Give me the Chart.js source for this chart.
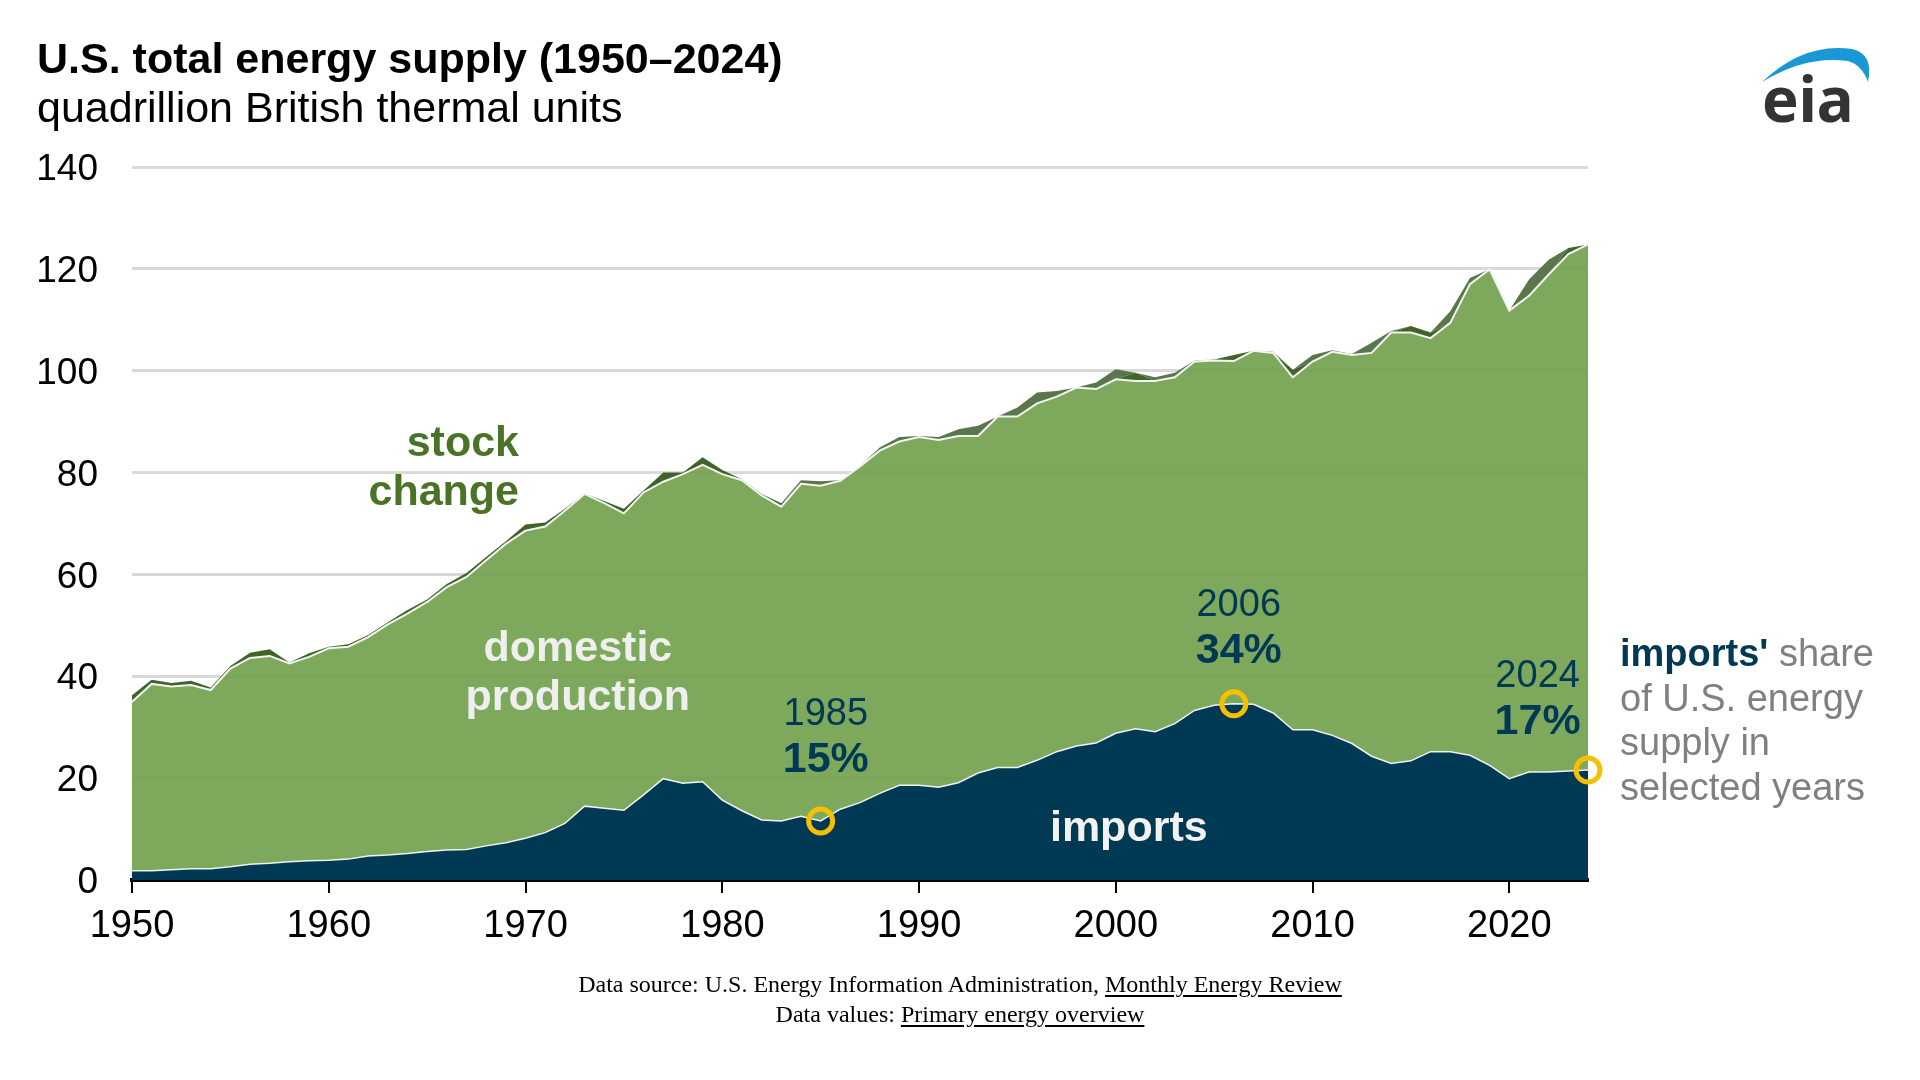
<!DOCTYPE html>
<html lang="en">
<head>
<meta charset="utf-8">
<title>U.S. total energy supply (1950–2024)</title>
<script src="https://cdn.jsdelivr.net/npm/chart.js@4.4.1/dist/chart.umd.min.js"></script>
<style>
  html, body { margin: 0; padding: 0; background: #fff; }
  #page { position: relative; width: 1920px; height: 1080px; overflow: hidden; font-family: "Liberation Sans", Arial, sans-serif; }
  #chart-wrap { position: absolute; left: 0; top: 0; width: 1920px; height: 1080px; }
  .title { position: absolute; left: 37px; top: 37px; font-size: 43px; line-height: 43px; font-weight: bold; color: #000; white-space: nowrap; }
  .subtitle { position: absolute; left: 37px; top: 86px; font-size: 43px; line-height: 43px; color: #000; white-space: nowrap; }
  .logo-arc { position: absolute; left: 1740px; top: 30px; }
  .logo-text { position: absolute; left: 1762px; top: 67px; font-family: "Open Sans", sans-serif; font-weight: bold; font-size: 62px; line-height: 62px; color: #333; letter-spacing: -0.5px; }
  .footer { position: absolute; left: 0; top: 969px; width: 1920px; text-align: center; font-family: "Liberation Serif", "Times New Roman", serif; font-size: 24px; line-height: 30px; color: #000; }
  .footer u { text-underline-offset: 3px; }
</style>
</head>
<body>
<div id="page">
  <div id="chart-wrap"><canvas id="supply-chart"></canvas></div>
  <div class="title">U.S. total energy supply (1950–2024)</div>
  <div class="subtitle">quadrillion British thermal units</div>
  <svg class="logo-arc" width="150" height="100" viewBox="0 0 150 100">
    <path d="M22,52 Q64,12 112,19 Q134,24 128,52 Q122,35 108,31 Q66,25 22,52 Z" fill="#1a98d5"/>
  </svg>
  <div class="logo-text">eia</div>
  <div class="footer">
    Data source: U.S. Energy Information Administration, <u>Monthly Energy Review</u><br>
    Data values: <u>Primary energy overview</u>
  </div>
</div>
<script>
// annual values, quadrillion Btu
const years = [
  1950, 1951, 1952, 1953, 1954, 1955, 1956, 1957, 1958, 1959,
  1960, 1961, 1962, 1963, 1964, 1965, 1966, 1967, 1968, 1969,
  1970, 1971, 1972, 1973, 1974, 1975, 1976, 1977, 1978, 1979,
  1980, 1981, 1982, 1983, 1984, 1985, 1986, 1987, 1988, 1989,
  1990, 1991, 1992, 1993, 1994, 1995, 1996, 1997, 1998, 1999,
  2000, 2001, 2002, 2003, 2004, 2005, 2006, 2007, 2008, 2009,
  2010, 2011, 2012, 2013, 2014, 2015, 2016, 2017, 2018, 2019,
  2020, 2021, 2022, 2023, 2024
];

const imports = [
  1.8, 1.8, 2.0, 2.2, 2.2, 2.6, 3.1, 3.3, 3.6, 3.8,
  3.9, 4.1, 4.7, 4.9, 5.2, 5.6, 5.9, 6.0, 6.7, 7.3,
  8.2, 9.3, 11.1, 14.5, 14.1, 13.7, 16.7, 19.9, 19.0, 19.3,
  15.7, 13.6, 11.8, 11.6, 12.5, 11.6, 13.9, 15.2, 17.0, 18.6,
  18.6, 18.2, 19.1, 21.0, 22.1, 22.1, 23.5, 25.2, 26.3, 26.9,
  28.8, 29.7, 29.1, 30.7, 33.3, 34.3, 34.6, 34.5, 32.8, 29.5,
  29.5, 28.4, 26.8, 24.3, 22.9, 23.4, 25.2, 25.2, 24.5, 22.5,
  19.9, 21.2, 21.2, 21.4, 21.6
];

const production = [
  33.2, 36.7, 36.0, 36.1, 35.1, 38.9, 40.5, 40.7, 38.9, 40.0,
  41.6, 41.7, 43.0, 45.3, 47.1, 49.0, 51.6, 53.5, 56.1, 58.7,
  60.4, 60.1, 61.4, 61.3, 59.9, 58.3, 59.4, 58.3, 60.7, 62.2,
  64.0, 64.9, 63.7, 61.7, 65.3, 65.8, 64.5, 66.0, 67.3, 67.5,
  68.4, 68.2, 68.1, 66.2, 68.9, 68.9, 70.1, 69.7, 70.4, 69.5,
  69.5, 68.3, 68.9, 68.0, 68.5, 67.7, 67.3, 69.4, 70.7, 69.2,
  72.3, 75.3, 76.3, 79.2, 84.6, 84.1, 81.2, 84.2, 92.5, 97.4,
  91.9, 93.5, 97.7, 101.5, 103.2
];

// stock change band, split by the two shades used in the original
const stockChangeDark = [
  1.3, 0.8, 0.7, 0.8, 0.5, 0.5, 1.0, 1.3, 0.2, 0.7,
  0.3, 0.5, 0.4, 0.4, 0.7, 0.5, 0.6, 0.8, 0.6, 0.5,
  1.2, 0.8, 0.4, 0.1, 0.4, 0.9, 0.4, 1.8, 0.3, 1.5,
  0.8, 0.2, 0.3, 0.7, 0, 0, 0, 0, 0, 0,
  0, 0, 0, 0, 0, 0, 0, 0, 0, 0,
  0, 1.6, 0, 0, 0, 0.2, 1.2, 0, 0, 1.5,
  0, 0, 0.2, 0, 0, 1.3, 1.1, 0, 0, 0,
  0, 0, 0, 1.2, 0
];

const stockChangeLight = [
  0, 0, 0, 0, 0, 0, 0, 0, 0, 0,
  0, 0, 0, 0, 0, 0, 0, 0, 0, 0,
  0, 0, 0, 0, 0, 0, 0, 0, 0, 0,
  0, 0, 0, 0, 0.7, 0.9, 0.1, 0.1, 0.6, 0.9,
  0.2, 0.6, 1.3, 2.0, 0, 1.8, 2.1, 1.1, 0, 1.3,
  2.0, 0, 0.7, 0.9, 0.2, 0, 0, 0, 0.2, 0,
  1.3, 0.3, 0, 2.0, 0.3, 0, 0, 2.3, 1.2, 0,
  0, 3.2, 2.9, 0, 0
];

const xTicks = [1950, 1960, 1970, 1980, 1990, 2000, 2010, 2020];
const yTicks = [0, 20, 40, 60, 80, 100, 120, 140];

const highlightYears = [1985, 2006, 2024];
const importShares = ['15%', '34%', '17%'];

// where the text labels sit, in axis units (year, quads)
const shareLabelAt = [[1985.26, 30.5], [2006.25, 51.8], [2021.44, 37.9]];
const areaLabels = [
  { lines: ['stock', 'change'], at: [1969.67, 83.3], align: 'right', color: '#4a7327' },
  { lines: ['domestic', 'production'], at: [1972.66, 43.0], align: 'center', color: '#efefef' },
  { lines: ['imports'], at: [2000.66, 7.7], align: 'center', color: '#f2f2f2' }
];

const FONT = '"Liberation Sans", Arial, sans-serif';
const NAVY = '#003953';

const toPoints = series => years.map((yr, i) => ({ x: yr, y: series[i] }));

const labelsPlugin = {
    id: 'chartLabels',
    afterDatasetsDraw(chart) {
        const { ctx, scales: { x, y } } = chart;
        ctx.save();
        ctx.textBaseline = 'alphabetic';

        areaLabels.forEach(lab => {
            ctx.font = 'bold 43px ' + FONT;
            ctx.fillStyle = lab.color;
            ctx.textAlign = lab.align;
            const px = x.getPixelForValue(lab.at[0]);
            const py = y.getPixelForValue(lab.at[1]);
            lab.lines.forEach((line, k) => ctx.fillText(line, px, py + k * 49));
        });

        ctx.textAlign = 'center';
        ctx.fillStyle = NAVY;
        highlightYears.forEach((yr, i) => {
            const px = x.getPixelForValue(shareLabelAt[i][0]);
            const py = y.getPixelForValue(shareLabelAt[i][1]);
            ctx.font = '38px ' + FONT;
            ctx.fillText(String(yr), px, py);
            ctx.font = 'bold 43px ' + FONT;
            ctx.fillText(importShares[i], px, py + 47);
        });

        // note to the right of the plot
        const nx = x.getPixelForValue(2024) + 32;
        const ny = y.getPixelForValue(42.0);
        ctx.textAlign = 'left';
        ctx.font = 'bold 38px ' + FONT;
        ctx.fillStyle = NAVY;
        ctx.fillText("imports'", nx, ny);
        const w = ctx.measureText("imports'").width;
        ctx.font = '38px ' + FONT;
        ctx.fillStyle = '#808080';
        ctx.fillText(' share', nx + w, ny);
        ['of U.S. energy', 'supply in', 'selected years'].forEach((line, k) => {
            ctx.fillText(line, nx, ny + (k + 1) * 44.5);
        });
        ctx.restore();
    }
};

const ctx = document.getElementById('supply-chart').getContext('2d');
new Chart(ctx, {
    type: 'line',
    data: {
        datasets: [
            {
                label: 'imports',
                data: toPoints(imports),
                fill: 'origin',
                backgroundColor: NAVY,
                borderColor: 'rgba(255,255,255,0.9)',
                borderWidth: 1.5,
                pointRadius: 0
            },
            {
                label: 'domestic production',
                data: toPoints(production),
                fill: '-1',
                backgroundColor: 'rgba(112,159,74,0.9)',
                borderColor: '#f4f4f4',
                borderWidth: 2,
                pointRadius: 0
            },
            {
                label: 'stock change',
                data: toPoints(stockChangeDark),
                fill: '-1',
                backgroundColor: '#41632a',
                borderColor: 'rgba(0,0,0,0)',
                borderWidth: 0,
                pointRadius: 0
            },
            {
                label: 'stock change ',
                data: toPoints(stockChangeLight),
                fill: '-1',
                backgroundColor: '#5a774c',
                borderColor: 'rgba(0,0,0,0)',
                borderWidth: 0,
                pointRadius: 0
            },
            {
                label: 'selected years',
                stack: 'marks',
                order: -1,
                data: highlightYears.map(yr => ({ x: yr, y: imports[years.indexOf(yr)] })),
                showLine: false,
                fill: false,
                clip: false,
                pointRadius: 12,
                pointBorderWidth: 5,
                pointBorderColor: '#f6c000',
                pointBackgroundColor: 'rgba(0,0,0,0)'
            }
        ]
    },
    options: {
        responsive: true,
        maintainAspectRatio: false,
        animation: false,
        devicePixelRatio: 1,
        layout: { padding: { left: 0, top: 167, right: 332, bottom: 140 } },
        plugins: {
            legend: { display: false },
            tooltip: { enabled: false }
        },
        elements: { line: { tension: 0 } },
        scales: {
            x: {
                type: 'linear',
                min: 1950,
                max: 2024,
                afterBuildTicks: scale => { scale.ticks = xTicks.map(v => ({ value: v })); },
                afterFit: scale => { scale.height = 60; },
                border: { display: true, color: '#000', width: 4 },
                grid: { drawOnChartArea: false, drawTicks: true, tickLength: 13, color: '#000', lineWidth: 2 },
                ticks: {
                    padding: 11,
                    color: '#000',
                    font: { family: FONT, size: 38 },
                    maxRotation: 0,
                    callback: v => String(v)
                }
            },
            y: {
                stacked: true,
                min: 0,
                max: 140,
                afterBuildTicks: scale => { scale.ticks = yTicks.map(v => ({ value: v })); },
                afterFit: scale => { scale.width = 132; },
                border: { display: false },
                grid: { drawTicks: false, color: '#d9d9d9', lineWidth: 3 },
                ticks: {
                    padding: 34,
                    labelOffset: 3,
                    color: '#000',
                    font: { family: FONT, size: 37 }
                }
            }
        }
    },
    plugins: [labelsPlugin]
});
</script>
</body>
</html>
